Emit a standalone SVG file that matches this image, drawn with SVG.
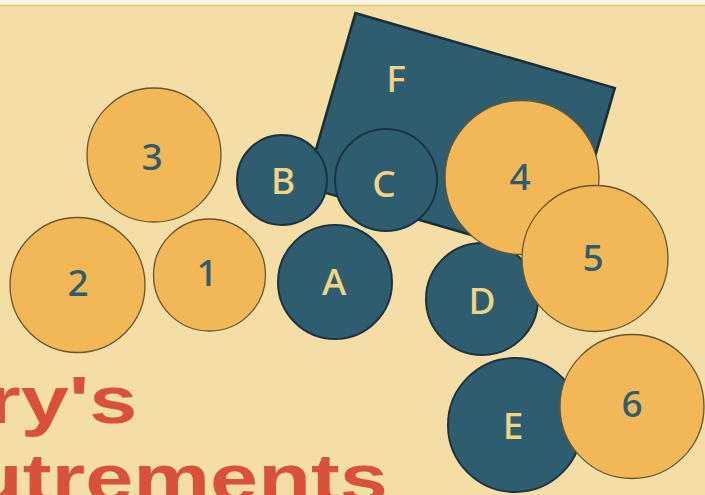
<svg xmlns="http://www.w3.org/2000/svg" width="705" height="495" viewBox="0 0 705 495">
<style>
.bg{fill:#f4dea6}
.o{fill:#f2b757;stroke:#6b5530;stroke-width:1.3}
.t{fill:#2f5d70;stroke:#1b3440;stroke-width:2}
.lo{fill:#2f5d70;font-family:"Noto Sans","DejaVu Sans",sans-serif;font-weight:500;font-size:37px;text-anchor:middle}
.lt{fill:#efd584;font-family:"Noto Sans","DejaVu Sans",sans-serif;font-weight:500;font-size:37px;text-anchor:middle}
.red{fill:#d9503b;font-family:"Liberation Sans",Arial,sans-serif;font-weight:bold;font-size:67px}
</style>
<rect class="bg" x="0" y="0" width="705" height="495"/>
<rect x="0" y="0" width="705" height="5" fill="#fbf6e8"/>
<line x1="0" y1="5.5" x2="705" y2="5.5" stroke="#e6cd7c" stroke-width="2"/>
<g id="F">
<rect x="-135" y="-90.5" width="270" height="181" fill="#2f5d70" stroke="#1b2e35" stroke-width="2.5" transform="translate(460,137.5) rotate(16.1)"/>
<text class="lt" x="396" y="92">F</text>
</g>
<g id="B"><circle class="t" cx="282" cy="180" r="45"/><text class="lt" x="283" y="194">B</text></g>
<g id="C"><circle class="t" cx="386" cy="180" r="51"/><text class="lt" x="384" y="197">C</text></g>
<g id="A"><circle class="t" cx="335" cy="282" r="57"/><text class="lt" x="334" y="295">A</text></g>
<g id="n3"><circle class="o" cx="154" cy="155" r="67"/><text class="lo" x="152" y="170">3</text></g>
<g id="n2"><circle class="o" cx="77.5" cy="285" r="67.5"/><text class="lo" x="78" y="296">2</text></g>
<g id="n1"><circle class="o" cx="209.5" cy="275" r="56"/><text class="lo" x="207" y="286">1</text></g>
<g id="D"><circle class="t" cx="482" cy="299" r="56"/><text class="lt" x="482" y="314">D</text></g>
<g id="n4"><circle class="o" cx="522" cy="177.5" r="77"/><text class="lo" x="520" y="190">4</text></g>
<g id="n5"><circle class="o" cx="595" cy="258.5" r="73"/><text class="lo" x="593" y="271">5</text></g>
<g id="E"><circle class="t" cx="515" cy="425" r="67"/><text class="lt" x="513" y="439">E</text></g>
<g id="n6"><circle class="o" cx="632" cy="406.5" r="72"/><text class="lo" x="632" y="417">6</text></g>
<g id="title">
<text class="red" transform="translate(-13,423) scale(1.29,1)">ry's</text>
<text class="red" transform="translate(-30,501) scale(1.29,1)">utrements</text>
</g>
</svg>
